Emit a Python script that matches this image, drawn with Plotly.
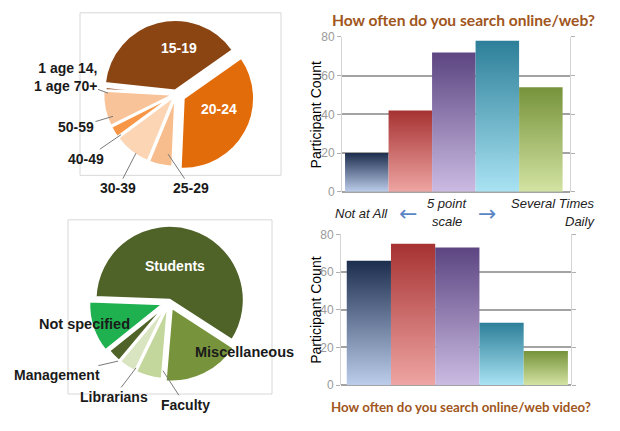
import plotly.graph_objects as go

W, H = 620, 431

# ---------------- data ----------------
age_labels = ["15-19", "20-24", "25-29", "30-39", "40-49", "50-59", "1 age 14,<br>1 age 70+"]
age_counts = [98, 90, 14, 22, 7, 21, 2]

role_labels = ["Students", "Miscellaneous", "Faculty", "Librarians", "Management", "Not specified"]
role_counts = [150, 44, 15, 10, 8, 29]

scale_points = [1, 2, 3, 4, 5]           # 5 point scale: Not at All -> Several Times Daily
web_counts = [20, 42, 72, 78, 54]         # How often do you search online/web?
video_counts = [66, 75, 73, 33, 18]       # How often do you search online/web video?
y_ticks = [0, 20, 40, 60, 80]

# ---------------- styles ----------------
age_colors = ["#8a4512", "#e36c0a", "#f8bd8d", "#fcd5b5", "#f79646", "#f9c39a", "#8a4512"]
age_pull = [0.05, 0.12, 0.03, 0.03, 0.03, 0.03, 0.0]
role_colors = ["#4f6228", "#77933c", "#c3d69b", "#d9e5c0", "#4f6228", "#1fb050"]
role_pull = [0.03, 0.08, 0.04, 0.04, 0.04, 0.08]
bar_dark = ["#1c2d4d", "#a63232", "#5c4581", "#2d7f99", "#76933a"]
bar_light = ["#bccdec", "#eea5a3", "#cbbbe2", "#a9e3f3", "#d3e3a3"]

FONT = "Liberation Sans"


def px(x):
    return x / W


def py(y):
    return 1 - y / H


fig = go.Figure()

# ---------------- pies ----------------
fig.add_trace(go.Pie(
    labels=age_labels, values=age_counts, sort=False, direction="clockwise",
    rotation=-84, pull=age_pull, textinfo="none", hoverinfo="label+value",
    marker=dict(colors=age_colors, line=dict(color="white", width=2.5)),
    domain=dict(x=[px(94), px(258)], y=[py(172), py(8)]), showlegend=False,
))
fig.add_trace(go.Pie(
    labels=role_labels, values=role_counts, sort=False, direction="clockwise",
    rotation=-88, pull=role_pull, textinfo="none", hoverinfo="label+value",
    marker=dict(colors=role_colors, line=dict(color="white", width=2.5)),
    domain=dict(x=[px(86), px(252)], y=[py(388), py(222)]), showlegend=False,
))

# ---------------- bars (gradient fill + bar outline) ----------------
def add_bars(values, xa, ya):
    for i, v in enumerate(values):
        x0, x1 = scale_points[i] - 0.5, scale_points[i] + 0.5
        fig.add_trace(go.Scatter(
            x=[x0, x1, x1, x0, x0], y=[0, 0, v, v, 0], mode="lines",
            fill="toself", line=dict(width=0),
            fillgradient=dict(type="vertical",
                              colorscale=[[0, bar_light[i]], [1, bar_dark[i]]]),
            hoverinfo="skip", showlegend=False, xaxis=xa, yaxis=ya,
        ))
    fig.add_trace(go.Bar(
        x=scale_points, y=values, width=1,
        marker=dict(color="rgba(0,0,0,0)", line=dict(width=0)),
        showlegend=False, xaxis=xa, yaxis=ya,
    ))


add_bars(web_counts, "x", "y")
add_bars(video_counts, "x2", "y2")

yaxis_style = dict(
    range=[0, 80], tickvals=y_ticks, showgrid=True, gridcolor="#a3a3a3", gridwidth=1.5,
    zeroline=True, zerolinecolor="#a3a3a3", zerolinewidth=1.5,
    showline=True, linecolor="#d4d4d4", linewidth=1, mirror="ticks",
    ticks="outside", ticklen=4, tickcolor="#b0b0b0",
    tickfont=dict(family=FONT, size=12, color="#9a9a9a"), fixedrange=True,
)
xaxis_style = dict(showgrid=False, zeroline=False, showticklabels=False,
                   showline=False, ticks="", fixedrange=True)

fig.update_layout(
    width=W, height=H, margin=dict(l=0, r=0, t=0, b=0),
    paper_bgcolor="white", plot_bgcolor="white", barmode="overlay",
    xaxis=dict(domain=[px(342), px(570)], range=[0.43, 5.67], anchor="y", **xaxis_style),
    yaxis=dict(domain=[py(191), py(31)], anchor="x", **yaxis_style),
    xaxis2=dict(domain=[px(341), px(571)], range=[0.37, 5.57], anchor="y2", **xaxis_style),
    yaxis2=dict(domain=[py(390.7), py(235)], anchor="x2", **yaxis_style),
)

# ---------------- frames around pies ----------------
for (x0, y0, x1, y1) in [(80, 6, 281, 174), (68, 220, 272, 400)]:
    fig.add_shape(type="rect", xref="paper", yref="paper",
                  x0=px(x0), x1=px(x1), y0=py(y1), y1=py(y0),
                  line=dict(color="#d8d8d8", width=1), fillcolor="rgba(0,0,0,0)", layer="below")


# ---------------- annotations ----------------
def ann(text, x, y, size=14, color="black", bold=True, italic=False,
        align="center", xanchor="center", to=None, family=FONT, angle=0):
    t = text
    if bold:
        t = "<b>" + t + "</b>"
    if italic:
        t = "<i>" + t + "</i>"
    d = dict(text=t, xref="paper", yref="paper", align=align, textangle=angle,
             font=dict(family=family, size=size, color=color))
    if to is None:
        d.update(x=px(x), y=py(y), showarrow=False, xanchor=xanchor, yanchor="middle")
    else:
        d.update(x=px(to[0]), y=py(to[1]), showarrow=True, arrowhead=0,
                 arrowwidth=1, arrowcolor="#7a7a7a", axref="pixel", ayref="pixel",
                 ax=x - to[0], ay=y - to[1], standoff=0)
    fig.add_annotation(**d)


# age pie labels
age_text_pos = [(179, 42, None), (219, 105, None), (191, 186, (168, 152)),
                (118, 186, (136, 151)), (86, 156, (121, 132)),
                (76, 124, (113, 113)), (65, 73, (108, 89))]
for i, lab in enumerate(age_labels):
    x, y, to = age_text_pos[i]
    col = "white" if to is None else "#1a1a1a"
    ann(lab, x, y, size=14, color=col, to=to, align="right")

# role pie labels
role_text_pos = [(175, 268, None), (244, 357, None), (185, 410, (163, 376)),
                 (114, 402, (136, 373)), (57, 380, (118, 366)), (84, 328, None)]
for i, lab in enumerate(role_labels):
    x, y, to = role_text_pos[i]
    col = "white" if i == 0 else "#1a1a1a"
    ann(lab, x, y, size=14.5 if i in (1, 5) else 14, color=col, to=to)

# axis titles
ann("Participant Count", 316, 111, size=14, bold=False, angle=-90)
ann("Participant Count", 316, 313, size=14, bold=False, angle=-90)

# chart titles
ann("How often do you search online/web?", 463, 13, size=15.6, color="#a0561c",
    family="Lato")
ann("How often do you search online/web video?", 461, 413, size=13.3, color="#a0561c",
    family="Lato")

# scale legend between bar charts
ann("Not at All", 361, 213, size=13, color="#222", bold=False, italic=True)
ann("\u2190", 408, 213, size=22, color="#5b86c5", bold=False, family="DejaVu Sans")
ann("5 point", 447, 203, size=13, color="#222", bold=False, italic=True)
ann("scale", 447, 222, size=13, color="#222", bold=False, italic=True)
ann("\u2192", 487, 213, size=22, color="#5b86c5", bold=False, family="DejaVu Sans")
ann("Several Times", 552, 203, size=13, color="#222", bold=False, italic=True)
ann("Daily", 597, 222, size=13, color="#222", bold=False, italic=True, xanchor="right")

fig.write_html("out.html")
